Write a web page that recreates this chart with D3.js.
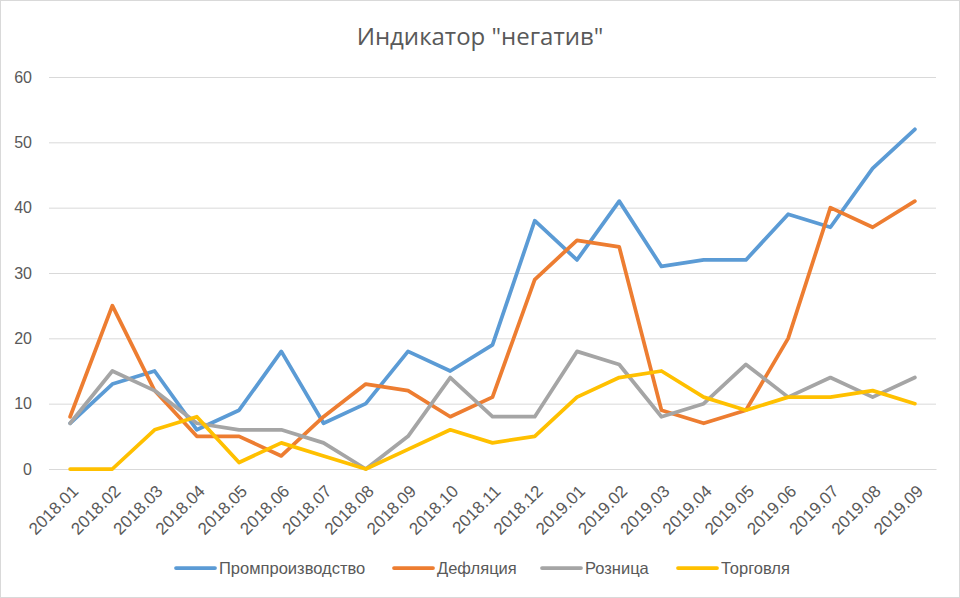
<!DOCTYPE html>
<html>
<head>
<meta charset="utf-8">
<script src="https://cdn.jsdelivr.net/npm/d3@7"></script>
<style>
  body { margin: 0; background: #fff; }
  svg { display: block; font-family: "Liberation Sans", sans-serif; }
</style>
</head>
<body>
<svg></svg>
<script>
let months = ['2018.01', '2018.02', '2018.03', '2018.04', '2018.05', '2018.06', '2018.07',
              '2018.08', '2018.09', '2018.10', '2018.11', '2018.12', '2019.01', '2019.02',
              '2019.03', '2019.04', '2019.05', '2019.06', '2019.07', '2019.08', '2019.09'];

let prom    = [7, 13, 15, 6, 9, 18, 7, 10, 18, 15, 19, 38, 32, 41, 31, 32, 32, 39, 37, 46, 52];
let deflya  = [8, 25, 12, 5, 5, 2, 8, 13, 12, 8, 11, 29, 35, 34, 9, 7, 9, 20, 40, 37, 41];
let roznica = [7, 15, 12, 7, 6, 6, 4, 0, 5, 14, 8, 8, 18, 16, 8, 10, 16, 11, 14, 11, 14];
let torg    = [0, 0, 6, 8, 1, 4, 2, 0, 3, 6, 4, 5, 11, 14, 15, 11, 9, 11, 11, 12, 10];

let seriesNames = ['Промпроизводство', 'Дефляция', 'Розница', 'Торговля'];
let yTicks = [0, 10, 20, 30, 40, 50, 60];

let width = 960;
let height = 598;
let plotLeft = 49, plotRight = 936, plotTop = 77, plotBottom = 469;

let colors = ['#5B9BD5', '#ED7D31', '#A5A5A5', '#FFC000'];
let allSeries = [prom, deflya, roznica, torg];

let svg = d3.select('svg')
  .attr('width', width)
  .attr('height', height);

// frame
svg.append('rect')
  .attr('x', 0.5).attr('y', 0.5)
  .attr('width', width - 1).attr('height', height - 1)
  .attr('fill', '#fff')
  .attr('stroke', '#D9D9D9');

// title
svg.append('text')
  .attr('x', 480)
  .attr('y', 45)
  .attr('text-anchor', 'middle')
  .attr('fill', '#595959')
  .style('font-family', '"Open Sans", sans-serif')
  .style('font-size', '24px')
  .text('Индикатор "негатив"');

let xScale = d3.scaleBand()
  .domain(months)
  .range([plotLeft, plotRight]);

let yScale = d3.scaleLinear()
  .domain([0, 60])
  .range([plotBottom, plotTop]);

// grid
let yAxis = d3.axisLeft(yScale)
  .tickValues(yTicks)
  .tickSize(-(plotRight - plotLeft))
  .tickPadding(17);

let gy = svg.append('g')
  .attr('transform', 'translate(' + plotLeft + ',0)')
  .call(yAxis);
gy.select('.domain').remove();
gy.selectAll('line').attr('stroke', '#D9D9D9').attr('stroke-width', 1);
gy.selectAll('text')
  .attr('fill', '#595959')
  .style('font-size', '16px');

// x axis
let xAxis = d3.axisBottom(xScale).tickSize(0).tickPadding(0);
let gx = svg.append('g')
  .attr('transform', 'translate(0,' + plotBottom + ')')
  .call(xAxis);
gx.select('.domain').attr('stroke', '#D9D9D9');
gx.selectAll('text')
  .attr('fill', '#595959')
  .style('font-size', '17px')
  .attr('text-anchor', 'end')
  .attr('dy', '0.35em')
  .attr('transform', 'translate(5,19) rotate(-45)');

// lines
let line = d3.line()
  .x((d, i) => xScale(months[i]) + xScale.bandwidth() / 2)
  .y(d => yScale(d));

svg.selectAll('.series')
  .data(allSeries)
  .enter()
  .append('path')
  .attr('class', 'series')
  .attr('d', d => line(d))
  .attr('fill', 'none')
  .attr('stroke', (d, i) => colors[i])
  .attr('stroke-width', 3.75)
  .attr('stroke-linejoin', 'round')
  .attr('stroke-linecap', 'round');

// legend
let legendX = [176, 394, 542, 678];
let legend = svg.selectAll('.legend')
  .data(seriesNames)
  .enter()
  .append('g')
  .attr('class', 'legend')
  .attr('transform', (d, i) => 'translate(' + legendX[i] + ',568)');

legend.append('line')
  .attr('x1', 0).attr('x2', 39)
  .attr('stroke', (d, i) => colors[i])
  .attr('stroke-width', 3.75)
  .attr('stroke-linecap', 'round');

legend.append('text')
  .attr('x', 43)
  .attr('dy', '0.35em')
  .attr('fill', '#595959')
  .style('font-size', '16.5px')
  .text(d => d);
</script>
</body>
</html>
